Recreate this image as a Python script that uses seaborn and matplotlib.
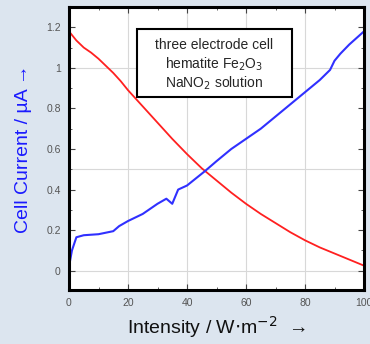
import numpy as np
import pandas as pd
import matplotlib.pyplot as plt
import seaborn as sns
from matplotlib.patches import Rectangle
from matplotlib.ticker import MultipleLocator

# values
blue_x = [0, 1, 2.5, 5, 10, 15, 17, 20, 25, 30, 33, 35, 37, 40, 46, 50, 55, 60, 65, 70, 75, 80, 85, 88.5, 90, 92, 95, 100]
blue_y = [0.02, 0.10, 0.165, 0.175, 0.18, 0.195, 0.22, 0.245, 0.28, 0.33, 0.355, 0.33, 0.40, 0.42, 0.49, 0.54, 0.60, 0.65, 0.70, 0.76, 0.82, 0.88, 0.94, 0.99, 1.035, 1.07, 1.115, 1.18]
red_x = [0, 2.5, 5, 7.5, 10, 12.5, 15, 17.5, 20, 25, 30, 35, 40, 45, 50, 55, 60, 65, 70, 75, 80, 85, 90, 95, 100]
red_y = [1.18, 1.135, 1.10, 1.075, 1.045, 1.01, 0.975, 0.935, 0.89, 0.81, 0.73, 0.65, 0.575, 0.505, 0.445, 0.385, 0.33, 0.28, 0.235, 0.19, 0.15, 0.115, 0.085, 0.055, 0.025]
x_ticks = [0, 20, 40, 60, 80, 100]
y_ticks = [0, 0.2, 0.4, 0.6, 0.8, 1.0, 1.2]
y_labels = ["0", "0.2", "0.4", "0.6", "0.8", "1", "1.2"]

sns.set_style("ticks")
plt.rcParams['font.family'] = ['Liberation Sans', 'DejaVu Sans']

fig = plt.figure(figsize=(3.7, 3.44), dpi=100, facecolor="#dce5ef")
ax = fig.add_axes([69/370, 54/344, 295/370, 283/344])
ax.set_facecolor("white")

# grid
for gx in [20, 40, 60, 80]:
    ax.axvline(gx, color="#d8d8d8", lw=0.8, zorder=0)
for gy in [0, 0.5, 1.0]:
    ax.axhline(gy, color="#d8d8d8", lw=0.8, zorder=0)

blue = pd.DataFrame({"x": blue_x, "y": blue_y})
red = pd.DataFrame({"x": red_x, "y": red_y})
sns.lineplot(data=red, x="x", y="y", color="#ff2020", lw=1.3, ax=ax)
sns.lineplot(data=blue, x="x", y="y", color="#3030ff", lw=1.5, ax=ax)

ax.set_xlim(0, 100)
ax.set_ylim(-0.095, 1.3)
ax.set_xticks(x_ticks)
ax.set_yticks(y_ticks)
ax.set_yticklabels(y_labels)
ax.xaxis.set_minor_locator(MultipleLocator(10))
ax.yaxis.set_minor_locator(MultipleLocator(0.1))
ax.tick_params(which="both", direction="in", right=True, top=True, labelsize=7.5,
               labelcolor="#555555", color="#444444")
ax.tick_params(which="major", length=4, pad=6)
ax.tick_params(which="minor", length=2.5)
for s in ax.spines.values():
    s.set_linewidth(2.2)
    s.set_color("black")

ax.set_xlabel(r"Intensity / W$\cdot$m$^{-2}$  →", fontsize=14, color="#111111", labelpad=4)
ax.set_ylabel("Cell Current / µA →", fontsize=14, color="#1a1aff", labelpad=10)

# annotation box
ax.add_patch(Rectangle((0.23, 0.682), 0.526, 0.24, transform=ax.transAxes,
                       facecolor="white", edgecolor="black", lw=1.5, zorder=5))
lines = ["three electrode cell", r"hematite Fe$_2$O$_3$", r"NaNO$_2$ solution"]
for i, t in enumerate(lines):
    ax.text(0.493, 0.865 - i * 0.068, t, transform=ax.transAxes, ha="center", va="center",
            fontsize=10, zorder=6)

fig.savefig("out.png", dpi=100, facecolor=fig.get_facecolor())
